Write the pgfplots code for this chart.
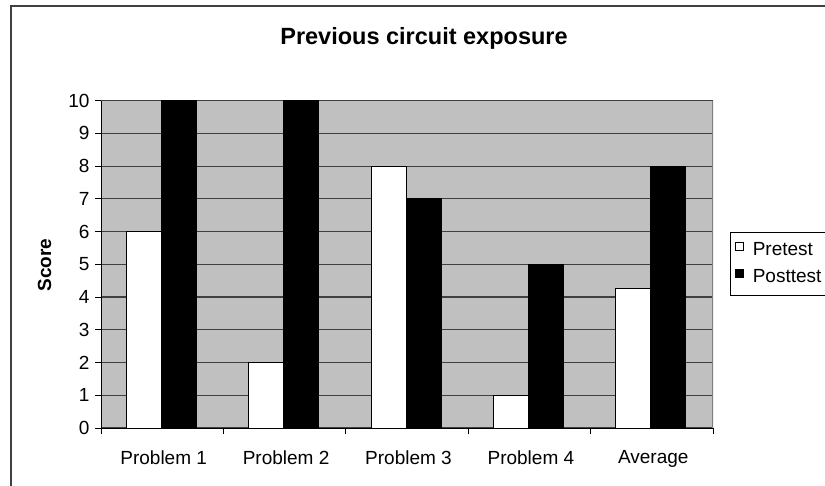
\documentclass[border=0pt]{standalone}
\usepackage{fontspec}
\setmainfont{Liberation Sans}
\usepackage{pgfplots}
\pgfplotsset{compat=1.18}
\definecolor{plotgray}{HTML}{C0C0C0}
\definecolor{gridc}{HTML}{404040}
\definecolor{framec}{HTML}{404040}
\definecolor{edgec}{HTML}{808080}
\begin{document}
\begin{tikzpicture}[x=1pt,y=1pt]
\useasboundingbox (0,0) rectangle (825,485);
\clip (0,0) rectangle (825,485);
\fill[white] (0,0) rectangle (825,485);
\draw[framec, line width=1.3pt] (11,479) rectangle (900,-20);
\node[font=\fontsize{23.5}{28}\selectfont\bfseries, anchor=base] at (424,440) {Previous circuit exposure};
\node[font=\fontsize{19}{23}\selectfont\bfseries, rotate=90] at (44.5,220) {Score};
\begin{axis}[
  at={(101pt,57pt)}, anchor=south west,
  scale only axis, width=612pt, height=327.3pt,
  xmin=-0.5, xmax=4.5, ymin=0, ymax=10,
  ybar=0pt, bar width=35pt,
  axis background/.style={fill=plotgray},
  axis line style={draw=none},
  tick pos=left, tick align=outside,
  ytick={0,1,...,10},
  major tick length=6pt, minor tick length=6pt,
  major y tick style={black, line width=1pt},
  xtick={0,1,2,3,4},
  xticklabels={Problem 1,Problem 2,Problem 3,Problem 4,Average},
  major x tick style={draw=none},
  minor xtick={-0.5,0.5,1.5,2.5,3.5,4.5},
  minor x tick style={black, line width=1pt},
  ymajorgrids, grid style={gridc, line width=1.2pt},
  ticklabel style={font=\fontsize{19}{23}\selectfont},
  /pgf/number format/assume math mode=true,
  xticklabel style={yshift=-13pt, xshift=1.5pt},
  yticklabel style={xshift=-2pt},
  legend style={at={(1.0278,0.5988)}, anchor=north west, draw=black, line width=1pt,
    fill=white, font=\fontsize{19}{23}\selectfont, inner xsep=4.5pt, inner ysep=7pt,
    row sep=5pt, column sep=7pt,
    nodes={inner sep=2pt, text height=14pt, text depth=4pt}},
  legend cell align=left,
  legend image code/.code={\draw[#1, line width=0.8pt] (0pt,0pt) rectangle (8pt,8pt);},
]
\addplot[fill=white, draw=black, line width=1pt, bar shift=-18.5pt] coordinates {(0,6) (1,2) (2,8) (3,1) (4,4.25)};
\addlegendentry{Pretest}
\addplot[fill=black, draw=black, line width=1pt, bar shift=16.5pt] coordinates {(0,10) (1,10) (2,7) (3,5) (4,8)};
\addlegendentry{Posttest}
\draw[black, line width=1pt] (rel axis cs:0,0) -- (rel axis cs:0,1);
\draw[black, line width=1pt] (rel axis cs:0,0) -- (rel axis cs:1,0);
\draw[edgec, line width=1.3pt] (rel axis cs:1,0) -- (rel axis cs:1,1);
\end{axis}
\end{tikzpicture}
\end{document}
